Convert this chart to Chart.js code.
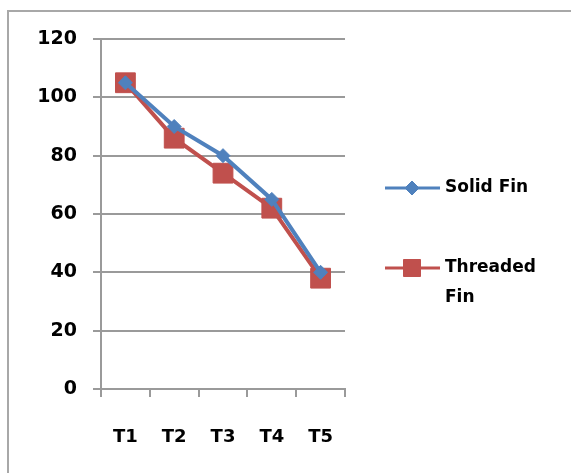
<!DOCTYPE html>
<html>
<head>
<meta charset="utf-8">
<script src="https://cdn.jsdelivr.net/npm/chart.js@4.4.1/dist/chart.umd.min.js"></script>
<style>
  html, body { margin: 0; padding: 0; background: #fff; overflow: hidden; }
  #wrap { width: 571px; height: 473px; position: relative; }
</style>
</head>
<body>
<div id="wrap"><canvas id="c" width="571" height="473"></canvas></div>
<script>
// Stages along the fin
const categories = ['T1', 'T2', 'T3', 'T4', 'T5'];
// Temperature readings per fin type
const solidFin = [105, 90, 80, 65, 40];
const threadedFin = [105, 86, 74, 62, 38];
// Legend text, one entry per line
const solidLabel = ['Solid Fin'];
const threadedLabel = ['Threaded', 'Fin'];
// Value axis ticks
const yTicks = [0, 20, 40, 60, 80, 100, 120];

const BLUE = '#4F81BD';
const RED = '#C0504D';
const GRID = '#9a9a9a';
const FONT = 'DejaVu Sans';

// White card with a grey frame along the top and left edges
const framePlugin = {
  id: 'frame',
  beforeDraw(chart) {
    const ctx = chart.ctx;
    ctx.save();
    ctx.fillStyle = '#fff';
    ctx.fillRect(0, 0, chart.width, chart.height);
    ctx.strokeStyle = '#a8a8a8';
    ctx.lineWidth = 2;
    ctx.beginPath();
    ctx.moveTo(8, chart.height);
    ctx.lineTo(8, 11);
    ctx.lineTo(chart.width, 11);
    ctx.stroke();
    ctx.restore();
  }
};

// Legend on the right side, with wrapped labels
const sideLegend = {
  id: 'sideLegend',
  afterDraw(chart) {
    const ctx = chart.ctx;
    const entries = [
      { ds: chart.data.datasets[0], lines: solidLabel, y: 188, r: 7 },
      { ds: chart.data.datasets[1], lines: threadedLabel, y: 268, r: 12 }
    ];
    ctx.save();
    entries.forEach(e => {
      ctx.strokeStyle = e.ds.borderColor;
      ctx.lineWidth = 3;
      ctx.beginPath();
      ctx.moveTo(385, e.y);
      ctx.lineTo(440, e.y);
      ctx.stroke();
      ctx.fillStyle = e.ds.borderColor;
      ctx.lineWidth = 1;
      Chart.helpers.drawPoint(ctx, {
        pointStyle: e.ds.pointStyle,
        radius: e.r,
        rotation: 0,
        borderWidth: 1
      }, 412, e.y);
      ctx.fillStyle = '#000';
      ctx.font = 'bold 17px "' + FONT + '"';
      ctx.textBaseline = 'middle';
      ctx.textAlign = 'left';
      e.lines.forEach((t, i) => ctx.fillText(t, 445, e.y + i * 30));
    });
    ctx.restore();
  }
};

new Chart(document.getElementById('c'), {
  type: 'line',
  data: {
    labels: categories,
    datasets: [
      {
        label: solidLabel.join(' '),
        data: solidFin,
        borderColor: BLUE,
        backgroundColor: BLUE,
        borderWidth: 4,
        pointStyle: 'rectRot',
        pointRadius: 7,
        pointBorderWidth: 1,
        tension: 0
      },
      {
        label: threadedLabel.join(' '),
        data: threadedFin,
        borderColor: RED,
        backgroundColor: RED,
        borderWidth: 4,
        pointStyle: 'rect',
        pointRadius: 14,
        pointBorderWidth: 1,
        tension: 0
      }
    ]
  },
  options: {
    responsive: false,
    animation: false,
    layout: { padding: { left: 0, right: 226, top: 39, bottom: 0 } },
    plugins: {
      legend: { display: false },
      tooltip: { enabled: false }
    },
    scales: {
      x: {
        offset: true,
        grid: {
          offset: true,
          drawOnChartArea: false,
          drawTicks: true,
          tickLength: 8,
          color: GRID,
          lineWidth: 2
        },
        border: { color: GRID, width: 2 },
        ticks: {
          color: '#000',
          padding: 30,
          font: { family: FONT, size: 18, weight: 'bold' }
        },
        afterFit(scale) { scale.height = 84; }
      },
      y: {
        min: 0,
        max: 120,
        afterBuildTicks(scale) { scale.ticks = yTicks.map(v => ({ value: v })); },
        grid: {
          drawTicks: true,
          tickLength: 8,
          color: GRID,
          lineWidth: 2
        },
        border: { color: GRID, width: 2 },
        ticks: {
          color: '#000',
          padding: 16,
          font: { family: FONT, size: 19, weight: 'bold' }
        },
        afterFit(scale) { scale.width = 101; }
      }
    }
  },
  plugins: [framePlugin, sideLegend]
});
</script>
</body>
</html>
